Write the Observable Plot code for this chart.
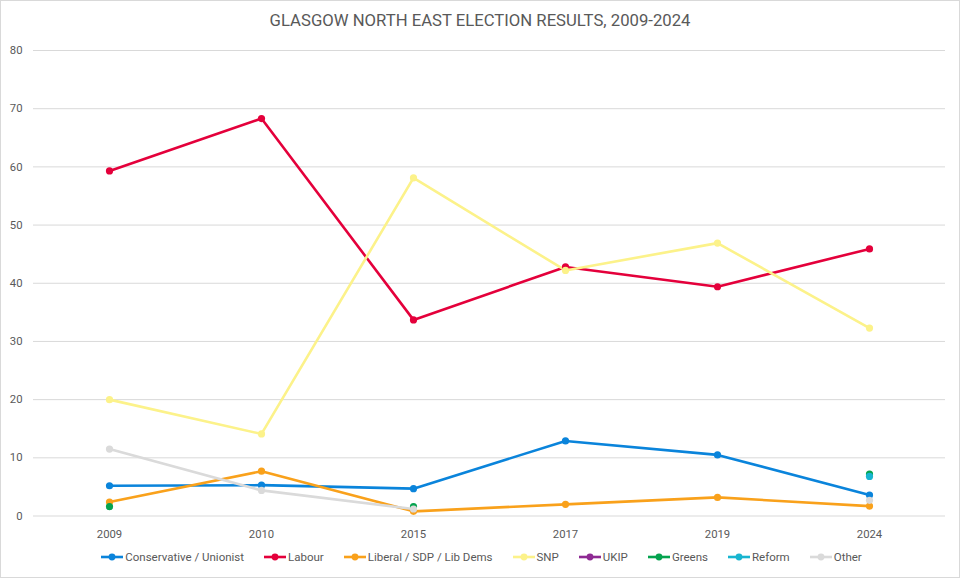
<!DOCTYPE html>
<html>
<head>
<meta charset="utf-8">
<script src="https://cdn.jsdelivr.net/npm/d3@7"></script>
<script src="https://cdn.jsdelivr.net/npm/@observablehq/plot@0.6"></script>
<style>
  html, body { margin: 0; padding: 0; background: #fff; }
  #wrap { width: 960px; height: 578px; box-sizing: border-box; border: 1px solid #d9d9d9; position: relative; overflow: hidden; }
  #title { height: 39px; line-height: 40px; text-align: center; font-family: Roboto, "Noto Sans", sans-serif; font-size: 16.7px; color: #595959; }
  #legend { display: flex; justify-content: center; align-items: center; gap: 19px; height: 24px; font-family: "Liberation Sans Narrow", "Roboto", sans-serif; font-size: 11.5px; color: #595959; margin-left: 2px; }
  #legend .item { display: flex; align-items: center; gap: 1px; }
  #chart svg { display: block; }
</style>
</head>
<body>
<div id="wrap">
  <div id="title">GLASGOW NORTH EAST ELECTION RESULTS, 2009-2024</div>
  <div id="chart"></div>
  <div id="legend"></div>
</div>
<script>
const years = ["2009", "2010", "2015", "2017", "2019", "2024"];
const parties = ["Conservative / Unionist", "Labour", "Liberal / SDP / Lib Dems", "SNP", "UKIP", "Greens", "Reform", "Other"];
const colors = ["#0A84DB", "#E4003B", "#F9A11B", "#FCF28A", "#8E2A93", "#05A34F", "#18B5D0", "#DADADA"];

const conservative = [5.2, 5.3, 4.7, 12.9, 10.5, 3.6];
const labour = [59.3, 68.3, 33.7, 42.8, 39.4, 45.9];
const libdem = [2.4, 7.7, 0.8, 2.0, 3.2, 1.7];
const snp = [20.0, 14.1, 58.1, 42.2, 46.9, 32.3];
const ukip = [null, null, null, null, null, null];
const greens = [1.6, null, 1.6, null, null, 7.2];
const reform = [null, null, null, null, null, 6.8];
const other = [11.5, 4.4, 1.2, null, null, 2.7];

const yTicks = [0, 10, 20, 30, 40, 50, 60, 70, 80];

const series = [conservative, labour, libdem, snp, ukip, greens, reform, other];
const rows = [];
series.forEach((vals, i) => {
  vals.forEach((v, j) => rows.push({ party: parties[i], year: years[j], value: v == null ? NaN : v }));
});

const chart = Plot.plot({
  width: 958,
  height: 505,
  marginLeft: 32,
  marginRight: 14,
  marginTop: 10,
  marginBottom: 29.5,
  style: { fontFamily: "Roboto, 'Noto Sans', sans-serif", fontSize: "11.3px", color: "#595959", background: "#fff" },
  x: { type: "point", domain: years, padding: 0.5, label: null, tickSize: 0, tickPadding: 14 },
  y: { domain: [0, 80], ticks: yTicks, label: null, tickSize: 0, tickPadding: 11 },
  color: { domain: parties, range: colors },
  marks: [
    Plot.gridY(yTicks, { stroke: "#d9d9d9", strokeOpacity: 1, strokeWidth: 1 }),
    Plot.axisX({ tickSize: 0, tickPadding: 14, label: null, fill: "#595959" }),
    Plot.axisY({ ticks: yTicks, tickSize: 0, tickPadding: 11, label: null, fill: "#595959" }),
    ...parties.map(p => Plot.line(rows.filter(r => r.party === p), { x: "year", y: "value", stroke: "party", strokeWidth: 2.6 })),
    ...parties.map(p => Plot.dot(rows.filter(r => r.party === p && !isNaN(r.value)), { x: "year", y: "value", fill: "party", r: 3.6, stroke: "none" }))
  ]
});
document.getElementById("chart").appendChild(chart);

const legend = document.getElementById("legend");
parties.forEach((p, i) => {
  const item = document.createElement("div");
  item.className = "item";
  item.innerHTML = `<svg width="24" height="10"><line x1="1" x2="23" y1="5" y2="5" stroke="${colors[i]}" stroke-width="2.6"/><circle cx="12" cy="5" r="3.4" fill="${colors[i]}"/></svg><span>${p}</span>`;
  legend.appendChild(item);
});
</script>
</body>
</html>
